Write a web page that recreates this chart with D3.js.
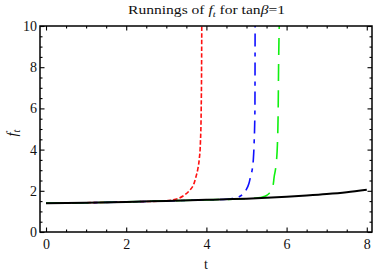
<!DOCTYPE html>
<html>
<head>
<meta charset="utf-8">
<script src="https://cdn.jsdelivr.net/npm/d3@7"></script>
<style>
body { margin: 0; background: #fff; }
svg { display: block; }
text { font-family: "Liberation Serif", "Times New Roman", serif; fill: #111; }
</style>
</head>
<body>
<svg width="374" height="273"></svg>
<script>
// values (t, f_t)
var blackT = [0, 1, 2, 3, 4, 4.5, 5, 5.5, 6, 6.5, 7, 7.5, 8];
var blackF = [1.40, 1.42, 1.46, 1.51, 1.56, 1.59, 1.62, 1.66, 1.71, 1.77, 1.84, 1.93, 2.05];

var redT = [0, 1, 2, 3, 3.15, 3.3, 3.45, 3.59, 3.68, 3.74, 3.79, 3.82, 3.85, 3.87, 3.88, 3.885];
var redF = [1.40, 1.42, 1.46, 1.51, 1.55, 1.63, 1.79, 2.04, 2.3, 2.68, 3.1, 3.5, 4.3, 5.9, 8, 10.3];

var blueT = [0, 1, 2, 3, 4, 4.5, 4.65, 4.8, 4.92, 4.99, 5.06, 5.10, 5.14, 5.17, 5.19, 5.21, 5.215];
var blueF = [1.40, 1.42, 1.46, 1.51, 1.56, 1.59, 1.63, 1.70, 1.85, 2.04, 2.35, 2.68, 3.0, 3.5, 4.3, 5.9, 10.3];

var greenT = [0, 1, 2, 3, 4, 5, 5.29, 5.4, 5.49, 5.57, 5.63, 5.67, 5.69, 5.72, 5.75, 5.77, 5.79, 5.80, 5.82];
var greenF = [1.40, 1.42, 1.46, 1.51, 1.56, 1.62, 1.66, 1.70, 1.76, 1.88, 2.04, 2.35, 2.68, 3.0, 3.5, 4.2, 5.9, 8, 10.3];

var xMajor = [0, 2, 4, 6, 8];
var yMajor = [0, 2, 4, 6, 8, 10];
var xMinor = d3.range(0.5, 8.01, 0.5).filter(function(v){ return v % 2 !== 0; });
var yMinor = d3.range(0.5, 10.01, 0.5).filter(function(v){ return v % 2 !== 0; });

var L = 40, R = 372, T = 26, B = 232;
var serif = '"Liberation Serif", "Times New Roman", serif';
var svg = d3.select('svg');

var x = d3.scaleLinear().domain([-0.15, 8.13]).range([L, R]);
var y = d3.scaleLinear().domain([0, 10]).range([B, T]);

svg.append('clipPath').attr('id', 'clip')
	.append('rect').attr('x', L).attr('y', T).attr('width', R - L).attr('height', B - T);

var line = d3.line()
	.x(function(d){ return x(d[0]); })
	.y(function(d){ return y(d[1]); })
	.curve(d3.curveMonotoneX);

function zip(a, b){ return a.map(function(v, i){ return [v, b[i]]; }); }

var series = [
	{t: redT, f: redF, color: '#ff1010', dash: '4.5,2.2', w: 1.6},
	{t: blueT, f: blueF, color: '#1010ff', dash: '13,6,4,6', w: 1.6},
	{t: greenT, f: greenF, color: '#10f010', dash: '17,9', w: 1.6},
	{t: blackT, f: blackF, color: '#000', dash: null, w: 2}
];

var g = svg.append('g').attr('clip-path', 'url(#clip)');
series.forEach(function(s){
	g.append('path')
		.attr('d', line(zip(s.t, s.f)))
		.attr('fill', 'none')
		.attr('stroke', s.color)
		.attr('stroke-width', s.w)
		.attr('stroke-dasharray', s.dash);
});

// axes with inward ticks on all four sides
function axis(a, pos, vals, size, labels, pad){
	var ax = a.tickValues(vals).tickSize(-size).tickPadding(pad);
	if (!labels) ax.tickFormat('');
	var gg = svg.append('g').attr('transform', pos).call(ax)
		.attr('font-family', serif).attr('font-size', 14);
	gg.select('.domain').remove();
	gg.selectAll('line').attr('stroke', '#000').attr('stroke-width', 1.1);
	gg.selectAll('text').attr('fill', '#111');
	return gg;
}
axis(d3.axisBottom(x), 'translate(0,' + B + ')', xMajor, 4.5, true, 7);
axis(d3.axisBottom(x), 'translate(0,' + B + ')', xMinor, 2.5, false, 0);
axis(d3.axisTop(x), 'translate(0,' + T + ')', xMajor, 4.5, false, 0);
axis(d3.axisTop(x), 'translate(0,' + T + ')', xMinor, 2.5, false, 0);
axis(d3.axisLeft(y), 'translate(' + L + ',0)', yMajor, 4.5, true, 3);
axis(d3.axisLeft(y), 'translate(' + L + ',0)', yMinor, 2.5, false, 0);
axis(d3.axisRight(y), 'translate(' + R + ',0)', yMajor, 4.5, false, 0);
axis(d3.axisRight(y), 'translate(' + R + ',0)', yMinor, 2.5, false, 0);

svg.append('rect')
	.attr('x', L).attr('y', T).attr('width', R - L).attr('height', B - T)
	.attr('fill', 'none').attr('stroke', '#000').attr('stroke-width', 1.5);

// title (the reference glyphs are a bit wider than Liberation Serif)
var title = svg.append('text').attr('x', 128).attr('y', 14)
	.attr('font-size', 13.5)
	.attr('textLength', 157).attr('lengthAdjust', 'spacingAndGlyphs');
title.append('tspan').text('Runnings of  ');
title.append('tspan').attr('font-style', 'italic').text('f');
title.append('tspan').attr('font-size', 9).attr('dy', 2.5).attr('font-style', 'italic').text('t');
title.append('tspan').attr('dy', -2.5).text(' for tan');
title.append('tspan').attr('font-style', 'italic').text('β');
title.append('tspan').text('=1');

// axis labels
svg.append('text').attr('x', 206).attr('y', 269)
	.attr('text-anchor', 'middle').attr('font-size', 14).text('t');

var yl = svg.append('text').attr('transform', 'translate(17,' + ((T + B) / 2 + 4) + ') rotate(-90)')
	.attr('text-anchor', 'middle').attr('font-size', 14.5);
yl.append('tspan').attr('font-style', 'italic').text('f');
yl.append('tspan').attr('font-size', 10).attr('dy', 2.5).attr('font-style', 'italic').text('t');
</script>
</body>
</html>
